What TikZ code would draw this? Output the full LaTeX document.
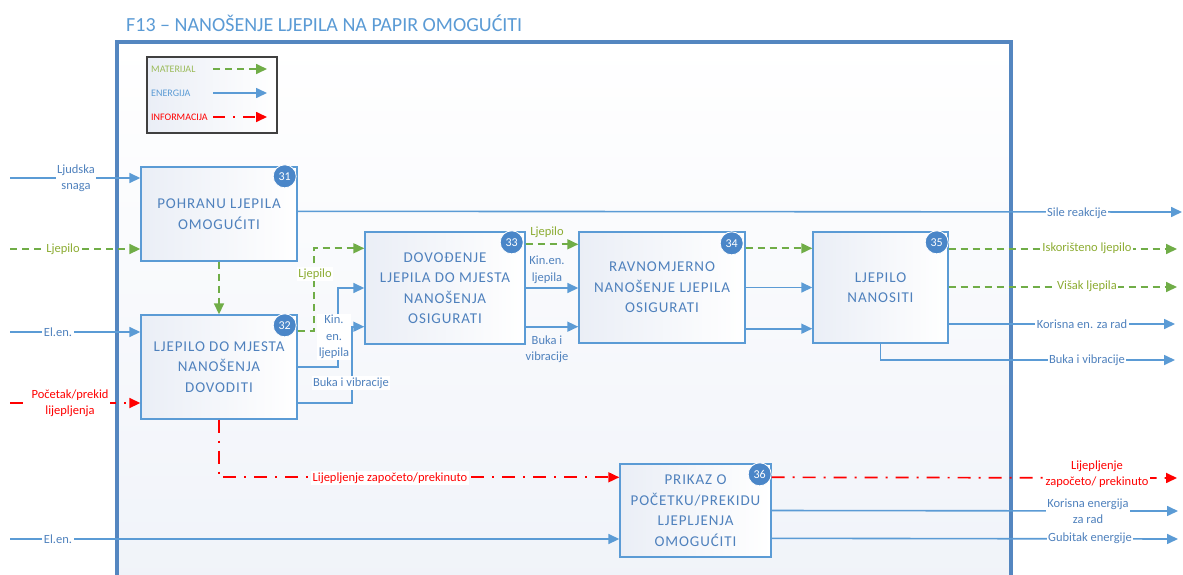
\documentclass[tikz,border=0pt]{standalone}
\usepackage{fontspec}
\setmainfont{Carlito}
\usetikzlibrary{arrows.meta,calc}
\definecolor{lnblue}{RGB}{91,155,213}
\definecolor{txblue}{RGB}{79,129,189}
\definecolor{frblue}{RGB}{84,134,192}
\definecolor{grn}{RGB}{112,173,71}
\definecolor{grntx}{RGB}{140,172,50}
\definecolor{lggrn}{RGB}{155,187,89}
\definecolor{rd}{RGB}{255,0,0}
\definecolor{badgec}{RGB}{74,134,200}
\definecolor{boxfill}{RGB}{234,238,246}
\definecolor{bgfill}{RGB}{240,243,249}
\begin{document}
\begin{tikzpicture}[x=1pt,y=-1pt,
  tip/.style={-{Triangle[length=11pt,width=10pt]}},
  en/.style={draw=lnblue, line width=1.6pt, tip},
  mat/.style={draw=grn, line width=1.7pt, dash pattern=on 7pt off 5pt, tip},
  inf/.style={draw=rd, line width=1.7pt, dash pattern=on 13pt off 8pt on 2pt off 8pt, tip},
  fbox/.style={draw=lnblue, line width=1.4pt, left color=boxfill, right color=white, inner sep=0pt, align=center, text=txblue, font=\fontsize{15}{20.5}\selectfont\addfontfeature{LetterSpace=6}},
  badge/.style={circle, fill=badgec, draw=white, line width=0.8pt, minimum size=23pt, inner sep=0pt, text=white, font=\fontsize{12}{12}\selectfont},
  lbl/.style={font=\fontsize{12.5}{16.5}\selectfont, align=center, inner sep=1.5pt, text=txblue, fill=white},
  glbl/.style={lbl, text=grntx},
  rlbl/.style={lbl, text=rd},
  leg/.style={anchor=west, inner sep=0pt, font=\fontsize{10}{10}\selectfont}
]
\useasboundingbox (0,0) rectangle (1183,574);
\clip (0,0) rectangle (1183,574);
\fill[white] (0,0) rectangle (1183,574);

% title
\node[anchor=west, inner sep=0pt, text=lnblue, font=\fontsize{20}{20}\selectfont] (title) at (126,23) {F13 – NANOŠENJE LJEPILA NA PAPIR OMOGUĆITI};

% frame
\shade[top color=white, bottom color=bgfill] (117,42) rectangle (1011,590);
\draw[frblue, line width=3.2pt] (117,590) -- (117,42) -- (1011,42) -- (1011,590);

% legend
\draw[draw={rgb,255:red,64;green,64;blue,64}, line width=1.4pt, left color=boxfill, right color=white] (147,57) rectangle (277,133);
\node[leg, text=lggrn] (lm) at (151,69) {MATERIJAL};
\node[leg, text=lnblue] (le) at (151,93) {ENERGIJA};
\node[leg, text=rd] (li) at (151,117) {INFORMACIJA};
\coordinate (lma) at (213,69);
\coordinate (lea) at (213,93);
\coordinate (lia) at (213,117);
\draw[mat] (lma) -- ++(54,0);
\draw[en] (lea) -- ++(54,0);
\draw[inf, dash pattern=on 12pt off 8pt on 2pt off 8pt] (lia) -- ++(54,0);

% boxes
\node[fbox, minimum width=156pt, minimum height=94pt] (b31) at (219,214) {POHRANU LJEPILA\\OMOGUĆITI};
\node[fbox, minimum width=156pt, minimum height=104pt] (b32) at (219,367) {LJEPILO DO MJESTA\\NANOŠENJA\\DOVODITI};
\node[fbox, minimum width=160pt, minimum height=112pt] (b33) at (445,288) {DOVOĐENJE\\LJEPILA DO MJESTA\\NANOŠENJA\\OSIGURATI};
\node[fbox, minimum width=166pt, minimum height=111pt] (b34) at (662,287.5) {RAVNOMJERNO\\NANOŠENJE LJEPILA\\OSIGURATI};
\node[fbox, minimum width=135pt, minimum height=111pt] (b35) at (880.5,287.5) {LJEPILO\\NANOSITI};
\node[fbox, minimum width=151pt, minimum height=93pt] (b36) at (695.5,510.5) {PRIKAZ O\\POČETKU/PREKIDU\\LJEPLJENJA\\OMOGUĆITI};

% free ends
\coordinate (inLS) at (10,178);
\coordinate (inLj) at (10,249);
\coordinate (inEl) at (10,332);
\coordinate (inPo) at (10,403);
\coordinate (inEl2) at (10,539);
\coordinate (outSR) at (1182,212);
\coordinate (outIL) at (1177,249);
\coordinate (outVL) at (1177,287);
\coordinate (outKE) at (1175,324);
\coordinate (outBV) at (1175,360);
\coordinate (outLZ) at (1177,478);
\coordinate (outKEn) at (1178,511);
\coordinate (outGE) at (1178,539);

% inputs
\draw[en] (inLS) -- (inLS -| b31.west);
\draw[mat] (inLj) -- (inLj -| b31.west);
\draw[en] (inEl) -- (inEl -| b32.west);
\draw[inf] (inPo) -- (inPo -| b32.west);
\draw[en] (inEl2) -- (inEl2 -| b36.west);

% internal
\draw[mat] (b31.south) -- (b32.north);
\draw[mat] ($(b32.north east)+(0,17)$) -- ++(16,0) |- ($(b33.north west)+(0,17)$);
\draw[en] (b32.east) -- ++(40,0) |- (b33.west);
\draw[en] ($(b32.south east)+(0,-17)$) -- ++(54,0) |- ($(b33.south west)+(0,-18)$);

\coordinate (c1) at ($(b33.north east)+(0,13)$);
\coordinate (c2) at ($(b33.south east)+(0,-18)$);
\draw[mat] (c1) -- (c1 -| b34.west);
\draw[en] (b33.east) -- (b33.east -| b34.west);
\draw[en] (c2) -- (c2 -| b34.west);

\coordinate (c3) at ($(b34.north east)+(0,17)$);
\coordinate (c4) at ($(b34.south east)+(0,-15)$);
\draw[mat] (c3) -- (c3 -| b35.west);
\draw[en] (b34.east) -- (b34.east -| b35.west);
\draw[en] (c4) -- (c4 -| b35.west);

\draw[inf] (b32.south) |- ($(b36.north west)+(0,14)$);

% outputs
\draw[en] ($(b31.north east)+(0,45)$) -- (outSR);
\draw[mat] (outIL -| b35.east) -- (outIL);
\draw[mat] (outVL -| b35.east) -- (outVL);
\draw[en] (outKE -| b35.east) -- (outKE);
\draw[en] (b35.south) |- (outBV);
\draw[inf] ($(b36.north east)+(0,14)$) -- (outLZ);
\draw[en] (b36.east) -- (outKEn);
\draw[en] ($(b36.north east)+(0,75)$) -- (outGE);

% badges
\node[badge] (n31) at ($(b31.north east)+(-13,10)$) {31};
\node[badge] (n32) at ($(b32.north east)+(-13,11)$) {32};
\node[badge] (n33) at ($(b33.north east)+(-14,11)$) {33};
\node[badge] (n34) at ($(b34.north east)+(-14,12)$) {34};
\node[badge] (n35) at ($(b35.north east)+(-12,11)$) {35};
\node[badge] (n36) at ($(b36.north east)+(-12,11)$) {36};

% labels
\node[lbl] (tLS) at (76,178) {Ljudska\\snaga};
\node[glbl] (tLj) at (63,249) {Ljepilo};
\node[lbl] (tEl) at (58,332) {El.en.};
\node[rlbl] (tPo) at (70,403) {Početak/prekid\\lijepljenja};
\node[lbl] (tEl2) at (58,539) {El.en.};
\node[glbl] (tLj2) at (315,274) {Ljepilo};
\node[lbl] (tKin) at (334,337) {Kin.\\en.\\ljepila};
\node[lbl] (tBuka) at (351,383) {Buka i vibracije};
\node[glbl, fill=none] (tLj3) at (547,232) {Ljepilo};
\node[lbl, fill=none] (tKin2) at (547,270) {Kin.en.\\ljepila};
\node[lbl, fill=none] (tBuka2) at (547,349) {Buka i\\vibracije};
\node[lbl] (tSR) at (1077,213) {Sile reakcije};
\node[glbl] (tIL) at (1087,248) {Iskorišteno ljepilo};
\node[glbl] (tVL) at (1087,286) {Višak ljepila};
\node[lbl] (tKE) at (1082,324) {Korisna en. za rad};
\node[lbl] (tBV) at (1087,360) {Buka i vibracije};
\node[rlbl] (tLZ) at (390,478) {Lijepljenje započeto/prekinuto};
\node[rlbl] (tLZ2) at (1097,474) {Lijepljenje\\započeto/ prekinuto};
\node[lbl] (tKEn) at (1088,511) {Korisna energija\\za rad};
\node[lbl] (tGE) at (1090,538) {Gubitak energije};
\end{tikzpicture}
\end{document}
